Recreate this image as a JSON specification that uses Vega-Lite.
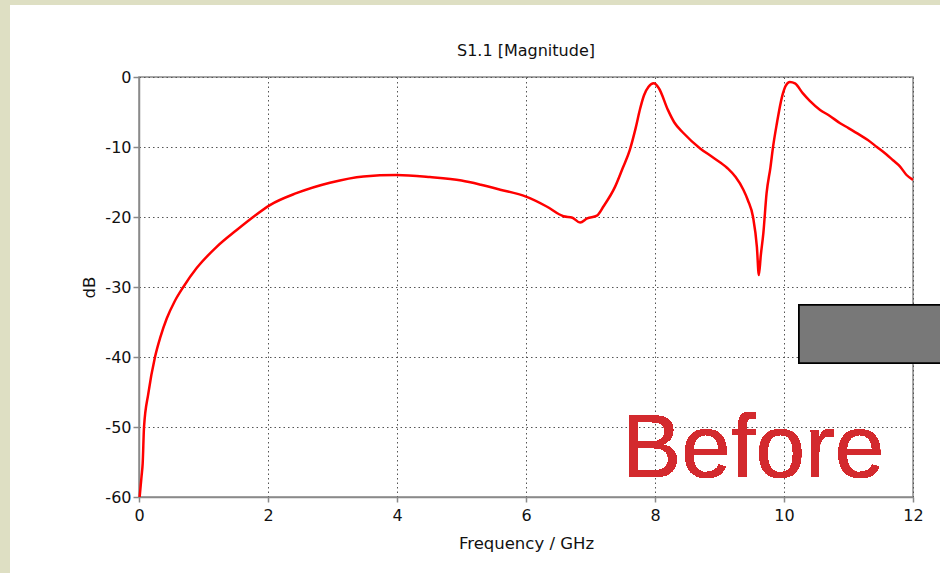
{
  "$schema": "https://vega.github.io/schema/vega-lite/v6.json",
  "width": 774,
  "height": 420,
  "autosize": {"type": "none"},
  "padding": {"left": 139, "top": 77, "right": 27, "bottom": 76},
  "background": "#ffffff",
  "title": {"text": "S1.1 [Magnitude]", "frame": "group", "font": "DejaVu Sans", "fontSize": 16, "fontWeight": "normal", "color": "#111111", "offset": -59, "zindex": 1},
  "config": {
    "view": {"stroke": "#8a8a8a", "strokeWidth": 1.5},
    "axis": {
      "labelFont": "DejaVu Sans", "labelFontSize": 16, "labelColor": "#111111",
      "titleFont": "DejaVu Sans", "titleFontSize": 16.5, "titleFontWeight": "normal", "titleColor": "#111111",
      "domainColor": "#8a8a8a", "domainWidth": 1.5, "tickColor": "#8a8a8a", "tickWidth": 1.5,
      "gridColor": "#555555", "gridDash": [1.5, 3], "gridWidth": 1,
      "labelExpr": "datum.value + ''"
    }
  },
  "data": {"values": [
    {"f": 0.01, "db": -60}, {"f": 0.04, "db": -57}, {"f": 0.057, "db": -55.2}, {"f": 0.078, "db": -50},
    {"f": 0.145, "db": -45.2}, {"f": 0.248, "db": -40}, {"f": 0.33, "db": -37.2}, {"f": 0.43, "db": -34.5},
    {"f": 0.55, "db": -32.1}, {"f": 0.687, "db": -30}, {"f": 0.894, "db": -27.3}, {"f": 1.2, "db": -24.3},
    {"f": 1.51, "db": -21.9}, {"f": 1.77, "db": -20}, {"f": 2.03, "db": -18.3}, {"f": 2.44, "db": -16.6},
    {"f": 2.96, "db": -15.1}, {"f": 3.48, "db": -14.2}, {"f": 3.99, "db": -14.0}, {"f": 4.51, "db": -14.3},
    {"f": 5.0, "db": -14.8}, {"f": 5.3, "db": -15.4}, {"f": 5.6, "db": -16.1}, {"f": 6.0, "db": -17.1},
    {"f": 6.32, "db": -18.5}, {"f": 6.58, "db": -19.9}, {"f": 6.72, "db": -20.1}, {"f": 6.84, "db": -20.8},
    {"f": 6.95, "db": -20.2}, {"f": 7.1, "db": -19.8}, {"f": 7.2, "db": -18.5}, {"f": 7.38, "db": -15.7},
    {"f": 7.5, "db": -13}, {"f": 7.61, "db": -10.4}, {"f": 7.7, "db": -7.3}, {"f": 7.77, "db": -4.5},
    {"f": 7.83, "db": -2.6}, {"f": 7.9, "db": -1.4}, {"f": 7.98, "db": -0.9}, {"f": 8.06, "db": -1.6},
    {"f": 8.2, "db": -4.7}, {"f": 8.3, "db": -6.5}, {"f": 8.44, "db": -8.0}, {"f": 8.7, "db": -10.2},
    {"f": 8.9, "db": -11.5}, {"f": 9.12, "db": -13.0}, {"f": 9.25, "db": -14.3}, {"f": 9.37, "db": -16.1},
    {"f": 9.44, "db": -17.6}, {"f": 9.52, "db": -20}, {"f": 9.58, "db": -24.3}, {"f": 9.61, "db": -28.3},
    {"f": 9.64, "db": -25.5}, {"f": 9.68, "db": -22.3}, {"f": 9.73, "db": -16.6}, {"f": 9.79, "db": -12.9},
    {"f": 9.83, "db": -10}, {"f": 9.89, "db": -6.6}, {"f": 9.97, "db": -2.8}, {"f": 10.03, "db": -1.2},
    {"f": 10.09, "db": -0.7}, {"f": 10.17, "db": -0.9}, {"f": 10.29, "db": -2.3}, {"f": 10.4, "db": -3.4},
    {"f": 10.56, "db": -4.7}, {"f": 10.7, "db": -5.5}, {"f": 10.87, "db": -6.6}, {"f": 11.0, "db": -7.3},
    {"f": 11.18, "db": -8.3}, {"f": 11.3, "db": -9.0}, {"f": 11.44, "db": -10}, {"f": 11.58, "db": -11},
    {"f": 11.69, "db": -11.9}, {"f": 11.8, "db": -12.8}, {"f": 11.9, "db": -14.0}, {"f": 12.0, "db": -14.7}
  ]},
  "encoding": {
    "x": {"field": "f", "type": "quantitative",
      "scale": {"domain": [0, 12], "nice": false, "zero": false},
      "axis": {"title": "Frequency / GHz", "values": [0, 2, 4, 6, 8, 10, 12], "tickSize": 5, "labelPadding": 5, "titlePadding": 12, "labelFlush": false}},
    "y": {"field": "db", "type": "quantitative",
      "scale": {"domain": [-60, 0], "nice": false, "zero": false},
      "axis": {"title": "dB", "values": [-60, -50, -40, -30, -20, -10, 0], "tickSize": 6, "labelPadding": 2, "titlePadding": 7, "labelFlush": false}}
  },
  "layer": [
    {
      "mark": {"type": "rect", "color": "#dedfc3"},
      "encoding": {
        "x": {"datum": -2.3}, "x2": {"datum": -2.0},
        "y": {"datum": 11.0}, "y2": {"datum": -71.5}
      }
    },
    {
      "mark": {"type": "rect", "color": "#dedfc3"},
      "encoding": {
        "x": {"datum": -2.3}, "x2": {"datum": 12.6},
        "y": {"datum": 11.0}, "y2": {"datum": 10.29}
      }
    },
    {
      "mark": {"type": "line", "color": "#ff0000", "strokeWidth": 2.5, "interpolate": "monotone"}
    },
    {
      "mark": {"type": "rect", "color": "#787878", "stroke": "#000000", "strokeWidth": 1.5, "opacity": 1},
      "encoding": {
        "x": {"datum": 10.233}, "x2": {"datum": 12.6},
        "y": {"datum": -32.57}, "y2": {"datum": -40.86}
      }
    },
    {
      "mark": {"type": "text", "text": "Before", "font": "Liberation Sans", "fontSize": 89, "color": "#d32a2e", "align": "left", "baseline": "alphabetic"},
      "encoding": {
        "x": {"datum": 7.488}, "y": {"datum": -57.14}
      }
    }
  ]
}
